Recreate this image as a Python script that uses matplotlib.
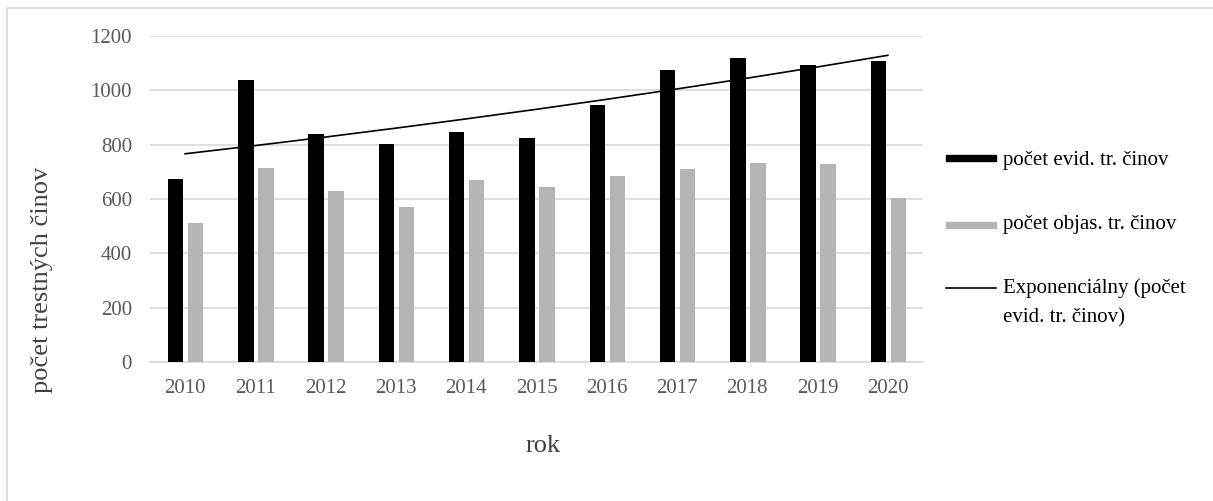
import numpy as np
import matplotlib
matplotlib.use("Agg")
import matplotlib.pyplot as plt
from matplotlib.patches import Rectangle
from matplotlib.lines import Line2D

plt.rcParams['font.family'] = ['Liberation Serif', 'DejaVu Serif']

years = ['2010', '2011', '2012', '2013', '2014', '2015', '2016', '2017', '2018', '2019', '2020']
evid = [674, 1037, 838, 801, 847, 824, 947, 1075, 1118, 1093, 1108]
objas = [510, 714, 629, 571, 669, 645, 684, 711, 732, 727, 602]
yticks = [0, 200, 400, 600, 800, 1000, 1200]

W, H = 1213, 501
fig = plt.figure(figsize=(W / 100, H / 100), dpi=100)

def fx(px):
    return px / W

def fy(py):
    return 1 - py / H

# chart frame
fig.patches.append(Rectangle((fx(7), fy(520)), fx(1240), fy(8) - fy(520),
                             transform=fig.transFigure, fill=False,
                             edgecolor='#d9d9d9', linewidth=1.2))

ax = fig.add_axes([fx(150), fy(362), fx(923) - fx(150), fy(36) - fy(362)])

x = np.arange(len(years))
ax.bar(x - 0.135, evid, width=0.22, color='black', zorder=3)
ax.bar(x + 0.15, objas, width=0.22, color='#b4b4b4', zorder=3)

# exponential trend of the recorded crimes
b, a = np.polyfit(x, np.log(evid), 1)
trend = np.exp(a + b * x)
ax.plot(x, trend, color='black', linewidth=1.2, zorder=4)

ax.set_xlim(-0.5, len(years) - 0.5)
ax.set_ylim(0, 1200)
ax.set_yticks(yticks)
ax.set_xticks(x)
ax.set_xticklabels(years)
ax.grid(axis='y', color='#d9d9d9', linewidth=1.2, zorder=0)
for s in ['top', 'right', 'left']:
    ax.spines[s].set_visible(False)
ax.spines['bottom'].set_color('#d9d9d9')
ax.spines['bottom'].set_linewidth(1.2)
ax.tick_params(axis='both', length=0, labelsize=15, colors='#595959')
ax.tick_params(axis='y', pad=13)
ax.tick_params(axis='x', pad=12)

fig.text(fx(543), fy(446), 'rok', ha='center', va='center', fontsize=19, color='#404040')
fig.text(fx(42), fy(280), 'počet trestných činov', ha='center', va='center',
         rotation=90, fontsize=19, color='#404040')

# legend drawn at the right side
fig.patches.append(Rectangle((fx(946), fy(161)), fx(50), fy(155) - fy(161),
                             transform=fig.transFigure, color='black'))
fig.text(fx(1003), fy(160), 'počet evid. tr. činov', ha='left', va='center', fontsize=15)
fig.patches.append(Rectangle((fx(946), fy(228)), fx(50), fy(222) - fy(228),
                             transform=fig.transFigure, color='#b4b4b4'))
fig.text(fx(1003), fy(224), 'počet objas. tr. činov', ha='left', va='center', fontsize=15)
fig.lines.append(Line2D([fx(946), fx(996)], [fy(288), fy(288)],
                        transform=fig.transFigure, color='black', linewidth=1.2))
fig.text(fx(1003), fy(288), 'Exponenciálny (počet', ha='left', va='center', fontsize=15)
fig.text(fx(1003), fy(318), 'evid. tr. činov)', ha='left', va='center', fontsize=15)

fig.savefig('out.png', dpi=100)
